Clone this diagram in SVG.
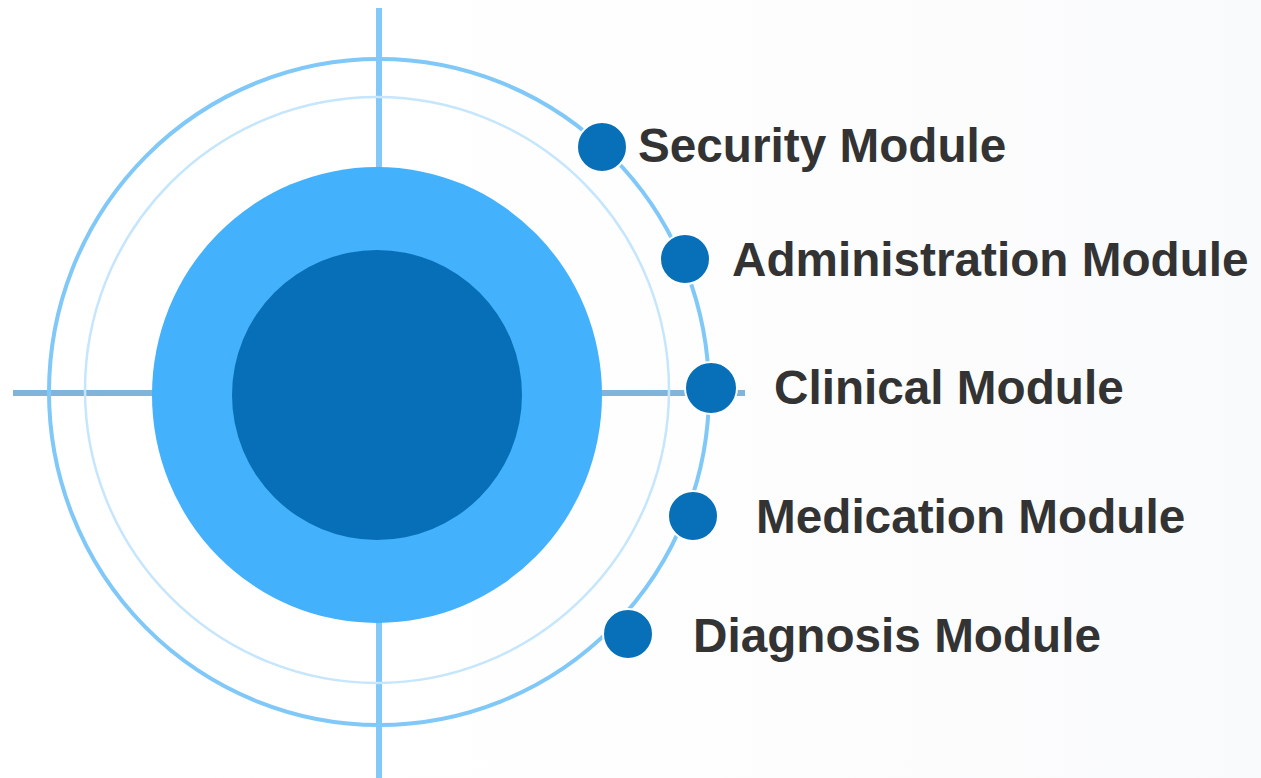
<svg xmlns="http://www.w3.org/2000/svg" width="1261" height="778" viewBox="0 0 1261 778">
  <defs>
    <linearGradient id="bg" x1="0" y1="0" x2="1" y2="0">
      <stop offset="0" stop-color="#ffffff"/>
      <stop offset="0.5" stop-color="#fefefe"/>
      <stop offset="1" stop-color="#f9fafb"/>
    </linearGradient>
    <style>
      .dot { fill: #0870b8; stroke: #ffffff; stroke-width: 2; }
      .label { font-family: "Liberation Sans", Arial, sans-serif; font-weight: bold; font-size: 47.7px; fill: #333333; }
    </style>
  </defs>
  <rect x="0" y="0" width="1261" height="778" fill="url(#bg)"/>
  <g id="connectors">
    <line x1="379" y1="8" x2="379" y2="778" stroke="#82c8f8" stroke-width="6"/>
    <line x1="13" y1="393" x2="745" y2="393" stroke="#80b4da" stroke-width="6"/>
  </g>
  <g id="rings">
    <ellipse cx="379" cy="392" rx="330" ry="333" fill="none" stroke="#80c8f8" stroke-width="4"/>
    <ellipse cx="377" cy="390" rx="292" ry="293" fill="none" stroke="#c5e6fc" stroke-width="2.5"/>
  </g>
  <g id="core">
    <ellipse cx="377" cy="395" rx="225" ry="228" fill="#43b1fb"/>
    <circle cx="377" cy="395" r="145" fill="#076fb7"/>
  </g>
  <g id="security">
    <circle class="dot" cx="602" cy="147" r="25"/>
    <text class="label" x="638" y="162">Security Module</text>
  </g>
  <g id="administration">
    <circle class="dot" cx="685" cy="259" r="25"/>
    <text class="label" x="732" y="276">Administration Module</text>
  </g>
  <g id="clinical">
    <circle class="dot" cx="711" cy="388" r="26"/>
    <text class="label" x="774" y="404">Clinical Module</text>
  </g>
  <g id="medication">
    <circle class="dot" cx="693" cy="516" r="25"/>
    <text class="label" x="756" y="533">Medication Module</text>
  </g>
  <g id="diagnosis">
    <circle class="dot" cx="628" cy="634" r="25"/>
    <text class="label" x="693" y="652">Diagnosis Module</text>
  </g>
</svg>
